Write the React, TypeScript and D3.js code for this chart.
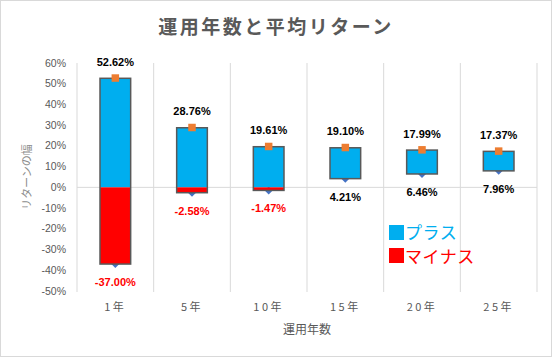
import React from "react";
import * as d3 from "d3";

const categories = ["1年", "5年", "10年", "15年", "20年", "25年"];
const maxValues = [52.62, 28.76, 19.61, 19.1, 17.99, 17.37];
const minValues = [-37.0, -2.58, -1.47, 4.21, 6.46, 7.96];
const yTicks = [60, 50, 40, 30, 20, 10, 0, -10, -20, -30, -40, -50];

const W = 552;
const H = 357;
const M = { left: 77, right: 15, top: 63, bottom: 66 };

export default function App() {
  const x = d3
    .scaleBand<string>()
    .domain(categories)
    .range([M.left, W - M.right])
    .paddingInner(0)
    .paddingOuter(0);
  const y = d3.scaleLinear().domain([-50, 60]).range([H - M.bottom, M.top]);
  const bw = x.bandwidth() * 0.4;
  const jp = "'Noto Sans CJK JP', 'Noto Sans', sans-serif";
  const num = "'Liberation Sans', Arial, sans-serif";
  const gridTop = y(60);
  const gridBottom = y(-50) + 1;
  const boundaries = categories.map((c) => x(c)!).concat([W - M.right]);

  return (
    <svg
      width={W}
      height={H}
      style={{ position: "absolute", left: 0, top: 0, background: "#fff" }}
    >
      <rect x={0.5} y={0.5} width={W - 1} height={H - 1} fill="#fff" stroke="#d9d9d9" />
      <text
        x={W / 2}
        y={34}
        textAnchor="middle"
        fontFamily={jp}
        fontSize={19}
        fontWeight="bold"
        letterSpacing={2.5}
        fill="#595959"
      >
        運用年数と平均リターン
      </text>

      {boundaries.map((bx, i) => (
        <line key={i} x1={bx} x2={bx} y1={gridTop} y2={gridBottom} stroke="#d9d9d9" strokeWidth={1} />
      ))}
      <line x1={M.left} x2={W - M.right} y1={y(0)} y2={y(0)} stroke="#d9d9d9" strokeWidth={1} />

      {yTicks.map((t) => (
        <text
          key={t}
          x={66}
          y={y(t) + 3.5}
          textAnchor="end"
          fontFamily={num}
          fontSize={10.5}
          fill="#595959"
        >
          {t}%
        </text>
      ))}
      <text
        transform={`translate(31, ${(y(60) + y(-50)) / 2}) rotate(-90)`}
        textAnchor="middle"
        fontFamily={jp}
        fontSize={11}
        fill="#8c8c8c"
      >
        リターンの幅
      </text>

      {categories.map((c) => (
        <text
          key={c}
          x={x(c)! + x.bandwidth() / 2}
          y={311}
          textAnchor="middle"
          fontFamily={jp}
          fontSize={11}
          letterSpacing={2.5}
          fill="#595959"
        >
          {c}
        </text>
      ))}
      <text
        x={(M.left + W - M.right) / 2}
        y={334}
        textAnchor="middle"
        fontFamily={jp}
        fontSize={12}
        fill="#595959"
      >
        運用年数
      </text>

      {categories.map((c, i) => {
        const cx = x(c)! + x.bandwidth() / 2;
        const hi = maxValues[i];
        const lo = minValues[i];
        const yHi = y(hi);
        const yLo = y(lo);
        const yZero = y(0);
        const blueBottom = lo < 0 ? yZero : yLo;
        const ds = 4;
        return (
          <g key={c}>
            <path
              d={`M${cx},${yLo - ds} L${cx + ds},${yLo} L${cx},${yLo + ds} L${cx - ds},${yLo} Z`}
              fill="#4472c4"
            />
            <rect x={cx - bw / 2} y={yHi} width={bw} height={blueBottom - yHi} fill="#00aeef" />
            {lo < 0 && (
              <rect x={cx - bw / 2} y={yZero} width={bw} height={yLo - yZero} fill="#ff0000" />
            )}
            <rect
              x={cx - bw / 2}
              y={yHi}
              width={bw}
              height={yLo - yHi}
              fill="none"
              stroke="#595959"
              strokeWidth={1.5}
            />
            <rect x={cx - 3.75} y={yHi - 4} width={7.5} height={7.5} fill="#ed7d31" />
            <text
              x={cx}
              y={yHi - 12.5}
              textAnchor="middle"
              fontFamily={num}
              fontSize={11}
              fontWeight="bold"
              fill="#000"
            >
              {hi.toFixed(2)}%
            </text>
            <text
              x={cx}
              y={yLo + 22}
              textAnchor="middle"
              fontFamily={num}
              fontSize={11}
              fontWeight="bold"
              fill={lo < 0 ? "#ff0000" : "#000"}
            >
              {lo.toFixed(2)}%
            </text>
          </g>
        );
      })}

      <rect x={389} y={225} width={15} height={15} fill="#00aeef" />
      <text x={405} y={239} fontFamily={jp} fontSize={17} letterSpacing={0.5} fill="#00aeef">
        プラス
      </text>
      <rect x={389} y={248} width={15} height={15} fill="#ff0000" />
      <text x={405} y={262.5} fontFamily={jp} fontSize={17} letterSpacing={0.5} fill="#ff0000">
        マイナス
      </text>
    </svg>
  );
}
